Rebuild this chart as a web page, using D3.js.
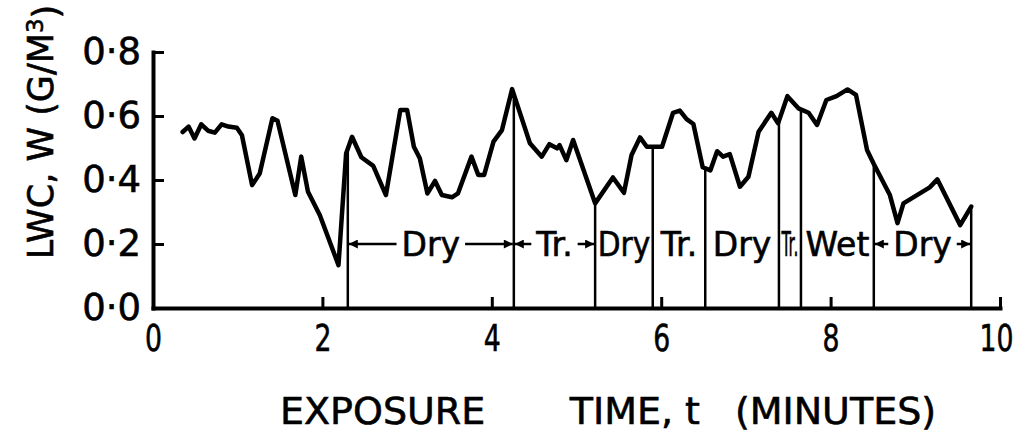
<!DOCTYPE html>
<html>
<head>
<meta charset="utf-8">
<script src="https://cdn.jsdelivr.net/npm/d3@7"></script>
<style>
  body { margin: 0; background: #fff; }
  svg { display: block; font-family: "DejaVu Sans", sans-serif; }
  svg text { fill: #000; stroke: #000; stroke-width: 0.6px; }
</style>
</head>
<body>
<div id="chart"></div>
<script>
// values
const times = [0.35, 0.42, 0.49, 0.57, 0.65, 0.73, 0.81, 0.89, 0.99, 1.05,
    1.17, 1.26, 1.41, 1.47, 1.68, 1.75, 1.83, 1.97, 2.19, 2.28,
    2.35, 2.46, 2.60, 2.75, 2.92, 3.00, 3.08, 3.15, 3.24, 3.33,
    3.41, 3.53, 3.60, 3.76, 3.84, 3.91, 4.02, 4.12, 4.24, 4.45,
    4.59, 4.68, 4.77, 4.80, 4.88, 4.96, 5.22, 5.43, 5.56, 5.65,
    5.75, 5.83, 6.01, 6.14, 6.22, 6.30, 6.38, 6.49, 6.58, 6.66,
    6.73, 6.81, 6.93, 7.03, 7.15, 7.30, 7.38, 7.49, 7.62, 7.74,
    7.84, 7.95, 8.07, 8.20, 8.30, 8.43, 8.51, 8.70, 8.79, 8.86,
    9.17, 9.26, 9.53, 9.66]
const lwc = [0.550, 0.567, 0.530, 0.574, 0.554, 0.548, 0.574, 0.567, 0.563, 0.540,
    0.384, 0.420, 0.593, 0.585, 0.353, 0.473, 0.363, 0.290, 0.134, 0.483,
    0.535, 0.471, 0.444, 0.353, 0.619, 0.619, 0.504, 0.468, 0.358, 0.397,
    0.353, 0.346, 0.358, 0.473, 0.416, 0.416, 0.520, 0.556, 0.684, 0.515,
    0.473, 0.512, 0.499, 0.509, 0.462, 0.525, 0.327, 0.408, 0.360, 0.478,
    0.533, 0.504, 0.504, 0.610, 0.617, 0.590, 0.575, 0.440, 0.430, 0.490,
    0.473, 0.481, 0.379, 0.410, 0.551, 0.610, 0.577, 0.662, 0.624, 0.610,
    0.572, 0.650, 0.662, 0.683, 0.666, 0.494, 0.450, 0.353, 0.265, 0.327,
    0.377, 0.402, 0.259, 0.317]

const xTicks = [0, 2, 4, 6, 8, 10]
const yTicks = [0, 0.2, 0.4, 0.6, 0.8]

// regime boundaries (minutes) and the labels between them
const bounds = [2.30, 4.26, 5.22, 5.90, 6.52, 7.39, 7.65, 8.51, 9.66]
const segLabels = ["Dry", "Tr.", "Dry", "Tr.", "Dry", "Tr.", "Wet", "Dry"]
const segArrows = [true, true, false, false, false, false, false, true]
const labelLevel = 0.2

const xTitleParts = ["EXPOSURE", "TIME, t", "(MINUTES)"]

const data = times.map((t, i) => ({ t, w: lwc[i] }))

const margin = { top: 52, right: 20, bottom: 127, left: 153 }
const width = 1020 - margin.left - margin.right
const height = 435 - margin.top - margin.bottom

const root = d3.select("#chart").append("svg")
    .attr("width", 1020)
    .attr("height", 435)

const svg = root.append("g")
    .attr("transform", `translate(${margin.left},${margin.top})`)

root.append("defs").append("marker")
    .attr("id", "head")
    .attr("viewBox", "0 0 10 10")
    .attr("refX", 10).attr("refY", 5)
    .attr("markerWidth", 11).attr("markerHeight", 9)
    .attr("markerUnits", "userSpaceOnUse")
    .attr("orient", "auto")
    .append("path")
    .attr("d", "M0,0L10,5L0,10z")
    .attr("fill", "#000")

const xScale = d3.scaleLinear().domain([0, 10]).range([0, width])
const yScale = d3.scaleLinear().domain([0, 0.8]).range([height, 0])

const fmt = d => d3.format(".1f")(d).replace(".", "·")

const xAxis = d3.axisBottom(xScale)
    .tickValues(xTicks)
    .tickFormat(d => d)
    .tickSizeInner(-11)
    .tickSizeOuter(0)
    .tickPadding(16)

const yAxis = d3.axisLeft(yScale)
    .tickValues(yTicks)
    .tickFormat(fmt)
    .tickSizeInner(-11)
    .tickSizeOuter(0)
    .tickPadding(12)

const xGroup = svg.append("g")
    .attr("transform", `translate(0,${height})`)
    .call(xAxis)
const yGroup = svg.append("g").call(yAxis)

for (const g of [xGroup, yGroup]) {
    g.select(".domain").attr("stroke-width", 4).attr("stroke-linecap", "square")
    g.selectAll(".tick line").attr("stroke-width", 3)
    g.selectAll(".tick text")
        .attr("font-size", 37)
        .attr("font-family", "'DejaVu Sans', sans-serif")
        .attr("fill", "#000")
}
// the x labels are narrow, upright lettering in the original
xGroup.selectAll(".tick text")
    .attr("font-size", 38)
    .attr("textLength", d => String(d).length * 17)
    .attr("lengthAdjust", "spacingAndGlyphs")
    .attr("dx", d => d >= 10 ? -4 : 0)

// curve value at a given time (for the boundary lines)
const bis = d3.bisector(d => d.t).left
function valueAt(t) {
    const i = bis(data, t)
    if (i <= 0) return data[0].w
    if (i >= data.length) return data[data.length - 1].w
    const a = data[i - 1], b = data[i]
    return a.w + (b.w - a.w) * (t - a.t) / (b.t - a.t)
}

svg.selectAll(".bound")
    .data(bounds)
    .join("line")
    .attr("class", "bound")
    .attr("x1", d => xScale(d)).attr("x2", d => xScale(d))
    .attr("y1", yScale(0)).attr("y2", d => yScale(valueAt(d)))
    .attr("stroke", "#000")
    .attr("stroke-width", 2.5)

const line = d3.line()
    .x(d => xScale(d.t))
    .y(d => yScale(d.w))

svg.append("path")
    .datum(data)
    .attr("d", line)
    .attr("fill", "none")
    .attr("stroke", "#000")
    .attr("stroke-width", 4.5)
    .attr("stroke-linejoin", "round")
    .attr("stroke-linecap", "round")

// regime labels
const ly = yScale(labelLevel)
segLabels.forEach((lab, i) => {
    const x0 = xScale(bounds[i]), x1 = xScale(bounds[i + 1])
    const cx = (x0 + x1) / 2
    const txt = svg.append("text")
        .attr("x", cx)
        .attr("y", ly)
        .attr("dy", "0.36em")
        .attr("text-anchor", "middle")
        .attr("font-size", 33)
        .text(lab)
    let w = txt.node().getComputedTextLength()
    if (w > x1 - x0) {
        w = x1 - x0 - 5
        txt.attr("textLength", w).attr("lengthAdjust", "spacingAndGlyphs")
    }
    if (segArrows[i]) {
        const gap = 5
        svg.append("line")
            .attr("x1", cx - w / 2 - gap).attr("x2", x0 + 1)
            .attr("y1", ly).attr("y2", ly)
            .attr("stroke", "#000").attr("stroke-width", 2.5)
            .attr("marker-end", "url(#head)")
        svg.append("line")
            .attr("x1", cx + w / 2 + gap).attr("x2", x1 - 1)
            .attr("y1", ly).attr("y2", ly)
            .attr("stroke", "#000").attr("stroke-width", 2.5)
            .attr("marker-end", "url(#head)")
    }
})

// axis titles
const xTitle = root.append("text")
    .attr("y", 424)
    .attr("font-size", 38)
xTitle.selectAll("tspan")
    .data(xTitleParts)
    .join("tspan")
    .attr("x", (d, i) => margin.left + xScale([1.5, 4.92, 6.87][i]))
    .text(d => d)

const yTitle = root.append("text")
    .attr("transform", "translate(53,132) rotate(-90)")
    .attr("text-anchor", "middle")
    .attr("font-size", 35)
yTitle.append("tspan").text("LWC, W (G/M")
yTitle.append("tspan").attr("dy", "-0.45em").attr("font-size", 23).text("3")
yTitle.append("tspan").attr("dy", "0.45em").text(")")
</script>
</body>
</html>
